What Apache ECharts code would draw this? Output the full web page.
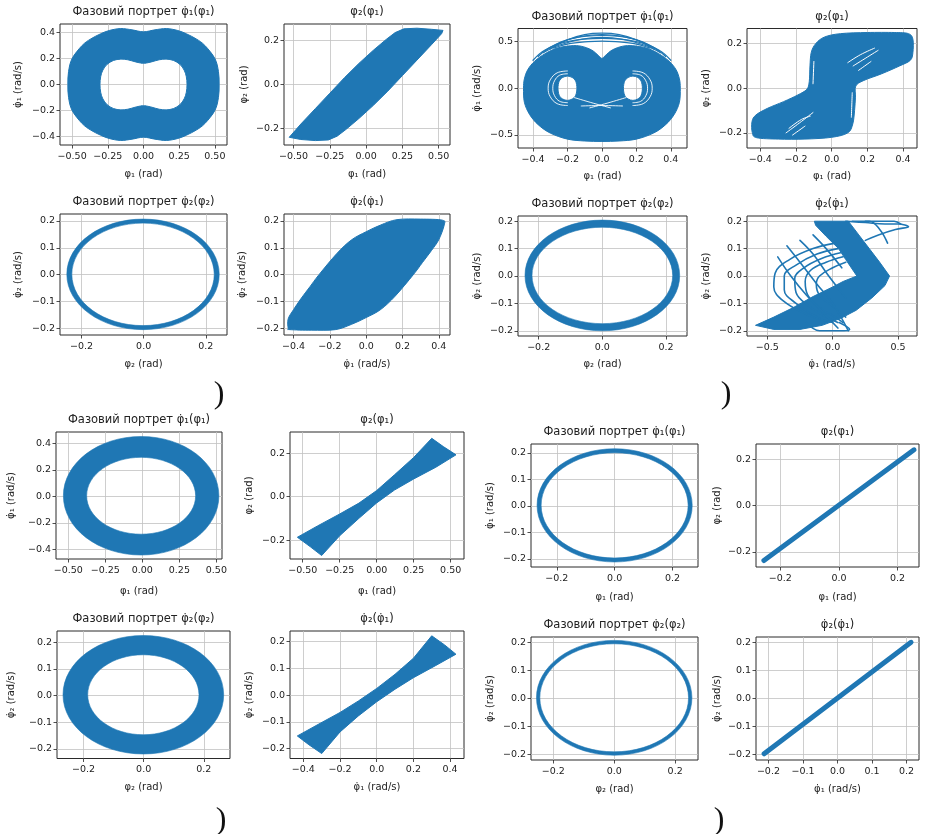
<!DOCTYPE html>
<html>
<head>
<meta charset="utf-8">
<title>Фазові портрети</title>
<script src="https://cdn.jsdelivr.net/npm/echarts@6/dist/echarts.min.js"></script>
<style>
  html, body { margin: 0; padding: 0; background: #ffffff; }
  #chart { width: 928px; height: 834px; }
</style>
</head>
<body>
<div id="chart"></div>
<script>
// ---------------------------------------------------------------
// Panel texts (four blocks of four phase portraits)
// ---------------------------------------------------------------
const titleA = 'Фазовий портрет φ̇₁(φ₁)';
const titleB = 'φ₂(φ₁)';
const titleC = 'Фазовий портрет φ̇₂(φ₂)';
const titleD = 'φ̇₂(φ̇₁)';
const panelTitles = [titleA, titleB, titleC, titleD, titleA, titleB, titleC, titleD,
                     titleA, titleB, titleC, titleD, titleA, titleB, titleC, titleD];
const xNamesBlock = ['φ₁ (rad)', 'φ₁ (rad)', 'φ₂ (rad)', 'φ̇₁ (rad/s)'];
const yNamesBlock = ['φ̇₁ (rad/s)', 'φ₂ (rad)', 'φ̇₂ (rad/s)', 'φ̇₂ (rad/s)'];
const captionMarks = [')', ')', ')', ')'];

// Axis ranges per panel: [min, max, tick step]
const xRanges = [
  [-0.585, 0.585, 0.25], [-0.566, 0.578, 0.25], [-0.269, 0.268, 0.2], [-0.453, 0.462, 0.2],
  [-0.487, 0.494, 0.2],  [-0.475, 0.478, 0.2],  [-0.265, 0.266, 0.2], [-0.655, 0.645, 0.5],
  [-0.583, 0.538, 0.25], [-0.586, 0.59, 0.25],  [-0.288, 0.287, 0.2], [-0.473, 0.476, 0.2],
  [-0.289, 0.288, 0.2],  [-0.283, 0.273, 0.2],  [-0.273, 0.275, 0.2], [-0.236, 0.236, 0.1]
];
const yRanges = [
  [-0.465, 0.465, 0.2],  [-0.275, 0.274, 0.2],  [-0.225, 0.226, 0.1], [-0.225, 0.226, 0.1],
  [-0.64, 0.64, 0.5],    [-0.268, 0.268, 0.2],  [-0.219, 0.219, 0.1], [-0.219, 0.219, 0.1],
  [-0.472, 0.486, 0.2],  [-0.287, 0.297, 0.2],  [-0.236, 0.242, 0.1], [-0.2375, 0.24, 0.1],
  [-0.231, 0.234, 0.1],  [-0.266, 0.267, 0.2],  [-0.219, 0.218, 0.1], [-0.219, 0.219, 0.1]
];

// ---------------------------------------------------------------
// Trajectory regions (phase-space coordinates)
// ---------------------------------------------------------------
// Block 1
const tl1Outer = [[0.53,0],[0.525,0.1],[0.5,0.2],[0.43,0.3],[0.37,0.35],[0.3,0.39],[0.24,0.415],[0.16,0.43],[0.08,0.42],[0,0.405],[-0.08,0.42],[-0.16,0.43],[-0.24,0.415],[-0.3,0.39],[-0.37,0.35],[-0.43,0.3],[-0.5,0.2],[-0.525,0.1],[-0.53,0],[-0.525,-0.1],[-0.5,-0.2],[-0.43,-0.3],[-0.37,-0.35],[-0.3,-0.39],[-0.24,-0.415],[-0.16,-0.43],[-0.08,-0.42],[0,-0.405],[0.08,-0.42],[0.16,-0.43],[0.24,-0.415],[0.3,-0.39],[0.37,-0.35],[0.43,-0.3],[0.5,-0.2],[0.525,-0.1]];
const tl1Inner = [[0.305,0],[0.3,0.06],[0.285,0.11],[0.255,0.155],[0.21,0.185],[0.16,0.195],[0.11,0.19],[0.06,0.175],[0.02,0.165],[0,0.163],[-0.02,0.165],[-0.06,0.175],[-0.11,0.19],[-0.16,0.195],[-0.21,0.185],[-0.255,0.155],[-0.285,0.11],[-0.3,0.06],[-0.305,0],[-0.3,-0.06],[-0.285,-0.11],[-0.255,-0.155],[-0.21,-0.185],[-0.16,-0.195],[-0.11,-0.19],[-0.06,-0.175],[-0.02,-0.165],[0,-0.163],[0.02,-0.165],[0.06,-0.175],[0.11,-0.19],[0.16,-0.195],[0.21,-0.185],[0.255,-0.155],[0.285,-0.11],[0.3,-0.06]];
const tl2Band = [[-0.53,-0.24],[-0.45,-0.18],[-0.35,-0.11],[-0.25,-0.04],[-0.15,0.03],[-0.05,0.095],[0.05,0.155],[0.14,0.205],[0.2,0.235],[0.26,0.252],[0.35,0.255],[0.45,0.25],[0.53,0.245],[0.52,0.23],[0.45,0.18],[0.35,0.11],[0.25,0.04],[0.15,-0.03],[0.05,-0.095],[-0.05,-0.155],[-0.14,-0.205],[-0.2,-0.235],[-0.26,-0.252],[-0.35,-0.255],[-0.45,-0.25]];
// [centre x, centre y, outer rx, outer ry, inner rx, inner ry]
const tl3Ring = [-0.002, 0.001, 0.245, 0.206, 0.229, 0.191];
const tl4Lens = [[-0.43,-0.2],[-0.43,-0.165],[-0.4,-0.13],[-0.36,-0.09],[-0.31,-0.045],[-0.26,0],[-0.16,0.08],[-0.08,0.13],[0,0.16],[0.08,0.185],[0.17,0.205],[0.3,0.207],[0.42,0.203],[0.43,0.185],[0.4,0.13],[0.36,0.09],[0.31,0.045],[0.26,0],[0.16,-0.08],[0.08,-0.13],[0,-0.16],[-0.08,-0.185],[-0.17,-0.205],[-0.3,-0.207],[-0.42,-0.205]];

// Block 2
const tr1Dense = [[-0.455,0],[-0.45,0.1],[-0.43,0.2],[-0.39,0.29],[-0.33,0.37],[-0.26,0.43],[-0.18,0.455],[-0.12,0.45],[-0.06,0.41],[-0.02,0.35],[0,0.32],[0.02,0.35],[0.06,0.41],[0.12,0.45],[0.18,0.455],[0.26,0.43],[0.33,0.37],[0.39,0.29],[0.43,0.2],[0.45,0.1],[0.455,0],[0.45,-0.15],[0.42,-0.28],[0.37,-0.39],[0.3,-0.48],[0.2,-0.545],[0.1,-0.565],[0,-0.57],[-0.1,-0.565],[-0.2,-0.545],[-0.3,-0.48],[-0.37,-0.39],[-0.42,-0.28],[-0.45,-0.15]];
const tr1HoleL = [[-0.145,0],[-0.152,0.075],[-0.172,0.115],[-0.2,0.13],[-0.228,0.115],[-0.248,0.075],[-0.255,0],[-0.248,-0.075],[-0.228,-0.115],[-0.2,-0.13],[-0.172,-0.115],[-0.152,-0.075]];
const tr1HoleR = [[0.235,0],[0.228,0.075],[0.208,0.115],[0.18,0.13],[0.152,0.115],[0.132,0.075],[0.125,0],[0.132,-0.075],[0.152,-0.115],[0.18,-0.13],[0.208,-0.115],[0.228,-0.075]];
const tr1Arcs = [
  [[-0.33,0.4],[-0.24,0.49],[-0.12,0.555],[0,0.575],[0.12,0.555],[0.24,0.49],[0.33,0.4]],
  [[-0.3,0.42],[-0.2,0.52],[-0.1,0.575],[0,0.59],[0.1,0.575],[0.2,0.52],[0.3,0.42]],
  [[-0.34,0.38],[-0.25,0.46],[-0.12,0.525],[0,0.545],[0.12,0.525],[0.25,0.46],[0.34,0.38]],
  [[-0.28,0.43],[-0.18,0.48],[-0.08,0.5],[0,0.505],[0.08,0.5],[0.18,0.48],[0.28,0.43]],
  [[-0.37,0.34],[-0.3,0.44],[-0.18,0.53],[0,0.565],[0.18,0.53],[0.3,0.44],[0.37,0.34]],
  [[-0.4,0.3],[-0.33,0.41],[-0.2,0.5],[0,0.535],[0.2,0.5],[0.33,0.41],[0.4,0.3]]
];
const tr1Gaps = [
  [[-0.2,0.155],[-0.245,0.14],[-0.275,0.08],[-0.285,0],[-0.275,-0.08],[-0.245,-0.14],[-0.2,-0.155]],
  [[-0.2,0.185],[-0.26,0.165],[-0.3,0.09],[-0.312,0],[-0.3,-0.09],[-0.26,-0.165],[-0.2,-0.185]],
  [[0.18,0.155],[0.225,0.14],[0.255,0.08],[0.265,0],[0.255,-0.08],[0.225,-0.14],[0.18,-0.155]],
  [[0.18,0.185],[0.24,0.165],[0.28,0.09],[0.292,0],[0.28,-0.09],[0.24,-0.165],[0.18,-0.185]],
  [[-0.16,-0.1],[-0.05,-0.16],[0.05,-0.21]],
  [[0.14,-0.1],[0.03,-0.16],[-0.07,-0.21]],
  [[-0.12,-0.19],[0,-0.185],[0.12,-0.19]]
];
const tr2Band = [[-0.445,-0.2],[-0.447,-0.15],[-0.425,-0.12],[-0.36,-0.09],[-0.27,-0.06],[-0.19,-0.03],[-0.14,-0.005],[-0.126,0.03],[-0.122,0.1],[-0.115,0.16],[-0.09,0.2],[-0.04,0.23],[0.05,0.245],[0.2,0.25],[0.35,0.25],[0.43,0.245],[0.455,0.22],[0.455,0.16],[0.44,0.125],[0.38,0.1],[0.28,0.065],[0.18,0.035],[0.135,0.01],[0.133,-0.04],[0.128,-0.1],[0.118,-0.16],[0.09,-0.2],[0,-0.22],[-0.15,-0.228],[-0.3,-0.228],[-0.42,-0.222]];
const tr2Gaps = [
  [[0.09,0.115],[0.16,0.15],[0.24,0.18]],
  [[0.12,0.1],[0.2,0.14],[0.26,0.17]],
  [[0.15,0.08],[0.22,0.12]],
  [[-0.256,-0.2],[-0.18,-0.155],[-0.105,-0.109]],
  [[-0.24,-0.18],[-0.17,-0.14],[-0.12,-0.125]],
  [[-0.22,-0.21],[-0.15,-0.17]],
  [[-0.105,0.02],[-0.1,0.12]],
  [[0.115,-0.02],[0.11,-0.13]]
];
const tr3Ring = [0, 0.002, 0.243, 0.202, 0.221, 0.176];
const tr4Dense = [[-0.14,0.2],[0.12,0.2],[0.2,0.15],[0.28,0.1],[0.36,0.05],[0.435,0],[0.4,-0.035],[0.3,-0.08],[0.18,-0.125],[0.06,-0.155],[-0.08,-0.18],[-0.25,-0.195],[-0.45,-0.195],[-0.59,-0.18],[-0.45,-0.15],[-0.3,-0.115],[-0.15,-0.075],[0,-0.04],[0.08,-0.02],[0.185,0],[0.1,0.06],[0.045,0.1],[-0.05,0.145],[-0.13,0.185]];
const tr4Loops = [
  [[0.02,0.12],[-0.15,0.1],[-0.33,0.06],[-0.44,0.01],[-0.45,-0.04],[-0.38,-0.09],[-0.2,-0.14],[-0.05,-0.165]],
  [[0.04,0.1],[-0.12,0.08],[-0.28,0.04],[-0.37,0],[-0.37,-0.05],[-0.28,-0.1],[-0.12,-0.15],[0,-0.17]],
  [[0.06,0.085],[-0.08,0.065],[-0.22,0.03],[-0.29,-0.01],[-0.28,-0.06],[-0.18,-0.11],[-0.05,-0.15],[0.04,-0.17]],
  [[0.08,0.07],[-0.05,0.05],[-0.17,0.02],[-0.21,-0.02],[-0.19,-0.07],[-0.1,-0.115],[0.02,-0.15],[0.08,-0.17]],
  [[0.1,0.05],[0,0.03],[-0.1,0],[-0.125,-0.03],[-0.1,-0.07],[0,-0.11],[0.1,-0.15]],
  [[-0.42,0.07],[-0.32,0],[-0.2,-0.07],[-0.08,-0.13],[0.04,-0.19]],
  [[-0.35,0.11],[-0.25,0.05],[-0.12,-0.03],[0,-0.1],[0.12,-0.2]],
  [[-0.25,0.13],[-0.15,0.08],[-0.03,0],[0.1,-0.08]],
  [[-0.15,0.15],[-0.05,0.1],[0.07,0.03]],
  [[0.1,0.2],[0.25,0.195],[0.4,0.19],[0.5,0.19],[0.58,0.18],[0.48,0.17],[0.35,0.15],[0.25,0.13]],
  [[0.15,0.2],[0.28,0.2],[0.36,0.17],[0.42,0.12]],
  [[0.25,0.2],[0.38,0.2],[0.47,0.2],[0.52,0.19]],
  [[-0.2,-0.17],[-0.1,-0.2],[0.05,-0.2],[0.13,-0.195],[0.05,-0.17]]
];

// Block 3
const bl1Ring = [-0.008, 0.005, 0.525, 0.447, 0.368, 0.29];
const bl2Bow = [[-0.536,-0.187],[-0.4,-0.135],[-0.25,-0.08],[-0.12,-0.03],[0,0.028],[0.12,0.1],[0.25,0.18],[0.372,0.268],[0.45,0.23],[0.536,0.192],[0.4,0.135],[0.25,0.081],[0.12,0.03],[0,-0.029],[-0.12,-0.1],[-0.25,-0.18],[-0.372,-0.271],[-0.45,-0.23]];
const bl3Ring = [-0.001, 0.003, 0.267, 0.222, 0.185, 0.15];
const bl4Bow = [[-0.433,-0.153],[-0.32,-0.11],[-0.2,-0.065],[-0.1,-0.022],[0,0.025],[0.1,0.078],[0.2,0.138],[0.3,0.222],[0.37,0.188],[0.432,0.153],[0.32,0.11],[0.2,0.065],[0.1,0.022],[0,-0.025],[-0.1,-0.078],[-0.2,-0.138],[-0.3,-0.219],[-0.37,-0.186]];

// Block 4
const br1Ring = [0, 0.002, 0.268, 0.214, 0.254, 0.199];
const br2Line = [[-0.256,-0.238],[0.256,0.242]];
const br3Ring = [0, 0.002, 0.255, 0.204, 0.244, 0.192];
const br4Line = [[-0.2125,-0.197],[0.213,0.2]];

// ---------------------------------------------------------------
// Layout and styles
// ---------------------------------------------------------------
const FONT = 'DejaVu Sans';
const INK = '#222222';
const BLUE = '#1f77b4';
const GRID_COLOR = '#c2c2c2';

// plot frames: [left, top, right, bottom] in px
const panelBoxes = [
  [60, 24, 227, 145],  [284, 24, 450, 145],  [60, 214, 227, 335],  [284, 214, 450, 335],
  [518, 28.5, 687, 148], [747, 28.5, 917, 148], [518, 216, 687, 336], [747, 216, 917, 336],
  [56, 432, 222, 559], [290, 432, 464, 559], [57, 631, 230, 758.5], [290, 631, 464, 758.5],
  [531, 444, 698, 567], [756, 444, 919, 567], [531, 637, 698, 760], [756, 637, 919, 760]
];
const xNameGaps = [24, 24, 24, 24, 23, 23, 23.5, 23.5, 27, 27, 24, 24, 25, 25, 24, 24];
const yNameGaps = [37, 35, 37, 37, 36, 36, 36, 36, 40, 36, 41, 36, 36, 34, 36, 34];
const captionPos = [[219, 395], [726, 395], [221, 821], [719, 821]];

function tickText(v, step, dec) {
  const k = v / step;
  if (Math.abs(k - Math.round(k)) > 1e-6) return '';
  if (Math.abs(v) < 1e-9) return (0).toFixed(dec);
  return (v < 0 ? '\u2212' : '') + Math.abs(v).toFixed(dec);
}
// tick positions: whole multiples of the step inside [min, max]
function tickValues(min, max, step) {
  const out = [];
  for (let k = Math.ceil(min / step - 1e-9); k <= Math.floor(max / step + 1e-9); k++) {
    out.push(Math.round(k * step * 1e6) / 1e6);
  }
  return out;
}

function axisCfg(i, range, name, gap, isX) {
  const [min, max, step] = range;
  const dec = (String(step).split('.')[1] || '').length;
  const ticks = tickValues(min, max, step);
  return {
    type: 'value', gridIndex: i, min: min, max: max,
    minInterval: step, maxInterval: step, splitNumber: 5,
    position: isX ? 'bottom' : 'left',
    name: name, nameLocation: 'middle', nameGap: gap, nameRotate: isX ? 0 : 90,
    nameTextStyle: { fontFamily: FONT, fontSize: 10, color: INK },
    axisLine: { show: false, onZero: false },
    axisTick: {
      show: true, inside: false, length: 3.5, customValues: ticks,
      lineStyle: { color: INK, width: 0.8 }
    },
    axisLabel: {
      fontFamily: FONT, fontSize: 9.5, color: INK, margin: isX ? 6.5 : 5,
      hideOverlap: false, customValues: ticks,
      formatter: function (v) { return tickText(v, step, dec); }
    },
    splitLine: { show: true, lineStyle: { color: GRID_COLOR, width: 0.8 } }
  };
}

// ---------- path helpers (pixel space) ----------
function f(n) { return Math.round(n * 100) / 100; }
function area(px) {
  let s = 0;
  for (let i = 0; i < px.length; i++) {
    const a = px[i], b = px[(i + 1) % px.length];
    s += a[0] * b[1] - b[0] * a[1];
  }
  return s / 2;
}
function orient(px, positive) {
  const a = area(px);
  return (positive ? a > 0 : a < 0) ? px : px.slice().reverse();
}
function closedPath(px, smooth) {
  const n = px.length;
  let d = 'M' + f(px[0][0]) + ' ' + f(px[0][1]);
  for (let i = 0; i < n; i++) {
    const p0 = px[(i - 1 + n) % n], p1 = px[i], p2 = px[(i + 1) % n], p3 = px[(i + 2) % n];
    if (smooth) {
      const c1x = p1[0] + (p2[0] - p0[0]) / 6, c1y = p1[1] + (p2[1] - p0[1]) / 6;
      const c2x = p2[0] - (p3[0] - p1[0]) / 6, c2y = p2[1] - (p3[1] - p1[1]) / 6;
      d += 'C' + f(c1x) + ' ' + f(c1y) + ' ' + f(c2x) + ' ' + f(c2y) + ' ' + f(p2[0]) + ' ' + f(p2[1]);
    } else {
      d += 'L' + f(p2[0]) + ' ' + f(p2[1]);
    }
  }
  return d + 'Z';
}
function ellipsePath(cx, cy, rx, ry, reverse) {
  const k = 0.5523, s = reverse ? -1 : 1;
  const P = (x, y) => f(x) + ' ' + f(y);
  return 'M' + P(cx + rx, cy) +
    'C' + P(cx + rx, cy + s * k * ry) + ' ' + P(cx + k * rx, cy + s * ry) + ' ' + P(cx, cy + s * ry) +
    'C' + P(cx - k * rx, cy + s * ry) + ' ' + P(cx - rx, cy + s * k * ry) + ' ' + P(cx - rx, cy) +
    'C' + P(cx - rx, cy - s * k * ry) + ' ' + P(cx - k * rx, cy - s * ry) + ' ' + P(cx, cy - s * ry) +
    'C' + P(cx + k * rx, cy - s * ry) + ' ' + P(cx + rx, cy - s * k * ry) + ' ' + P(cx + rx, cy) + 'Z';
}

// ---------- series builders ----------
function bandSeries(i, outers, holes, smooth) {
  return {
    type: 'custom', xAxisIndex: i, yAxisIndex: i, silent: true, data: [0], z: 2,
    renderItem: function (params, api) {
      let d = '';
      outers.forEach(pts => { d += closedPath(orient(pts.map(p => api.coord(p)), true), smooth); });
      holes.forEach(pts => { d += closedPath(orient(pts.map(p => api.coord(p)), false), smooth); });
      return { type: 'path', shape: { pathData: d }, style: { fill: BLUE, stroke: BLUE, lineWidth: 1 } };
    }
  };
}
function ringSeries(i, r) {
  return {
    type: 'custom', xAxisIndex: i, yAxisIndex: i, silent: true, data: [0], z: 2,
    renderItem: function (params, api) {
      const c = api.coord([r[0], r[1]]);
      const ox = api.coord([r[0] + r[2], r[1]])[0] - c[0];
      const oy = c[1] - api.coord([r[0], r[1] + r[3]])[1];
      const ix = api.coord([r[0] + r[4], r[1]])[0] - c[0];
      const iy = c[1] - api.coord([r[0], r[1] + r[5]])[1];
      const d = ellipsePath(c[0], c[1], ox, oy, false) + ellipsePath(c[0], c[1], ix, iy, true);
      return { type: 'path', shape: { pathData: d }, style: { fill: BLUE, stroke: BLUE, lineWidth: 0.6 } };
    }
  };
}
function traceSeries(i, pts, width, color, smooth) {
  return {
    type: 'line', xAxisIndex: i, yAxisIndex: i, data: pts, symbol: 'none', showSymbol: false,
    smooth: smooth ? 0.4 : false, silent: true, z: 3,
    lineStyle: { color: color, width: width, cap: 'round', join: 'round' }
  };
}

// ---------------------------------------------------------------
// Option
// ---------------------------------------------------------------
const grid = [], xAxis = [], yAxis = [], graphic = [];
panelBoxes.forEach((b, i) => {
  grid.push({
    left: b[0], top: b[1], width: b[2] - b[0], height: b[3] - b[1],
    show: true, borderColor: '#2a2a2a', borderWidth: 1, backgroundColor: 'transparent',
    containLabel: false, outerBoundsMode: 'none'
  });
  xAxis.push(axisCfg(i, xRanges[i], xNamesBlock[i % 4], xNameGaps[i], true));
  yAxis.push(axisCfg(i, yRanges[i], yNamesBlock[i % 4], yNameGaps[i], false));
  graphic.push({
    type: 'text', x: (b[0] + b[2]) / 2, y: b[1] - 11.5, silent: true,
    style: {
      text: panelTitles[i], font: '11.5px "' + FONT + '"', fill: INK,
      align: 'center', verticalAlign: 'middle', textAlign: 'center', textVerticalAlign: 'middle'
    }
  });
});
captionMarks.forEach((t, k) => {
  graphic.push({
    type: 'text', x: captionPos[k][0], y: captionPos[k][1], silent: true,
    style: {
      text: t, font: '32px "Liberation Serif"', fill: '#111',
      align: 'center', verticalAlign: 'middle', textAlign: 'center', textVerticalAlign: 'middle'
    }
  });
});

const series = [
  // block 1
  bandSeries(0, [tl1Outer], [tl1Inner], true),
  bandSeries(1, [tl2Band], [], false),
  ringSeries(2, tl3Ring),
  bandSeries(3, [tl4Lens], [], true),
  // block 2
  bandSeries(4, [tr1Dense], [tr1HoleL, tr1HoleR], true),
  ...tr1Arcs.map(a => traceSeries(4, a, 1.2, BLUE, true)),
  ...tr1Gaps.map(g => traceSeries(4, g, 0.9, '#ffffff', true)),
  bandSeries(5, [tr2Band], [], true),
  ...tr2Gaps.map(g => traceSeries(5, g, 1, '#ffffff', true)),
  ringSeries(6, tr3Ring),
  bandSeries(7, [tr4Dense], [], false),
  ...tr4Loops.map(l => traceSeries(7, l, 1.6, BLUE, true)),
  // block 3
  ringSeries(8, bl1Ring),
  bandSeries(9, [bl2Bow], [], false),
  ringSeries(10, bl3Ring),
  bandSeries(11, [bl4Bow], [], false),
  // block 4
  ringSeries(12, br1Ring),
  traceSeries(13, br2Line, 5, BLUE, false),
  ringSeries(14, br3Ring),
  traceSeries(15, br4Line, 5, BLUE, false)
];

const chart = echarts.init(document.getElementById('chart'), null, { renderer: 'canvas', width: 928, height: 834 });
chart.setOption({
  animation: false,
  backgroundColor: '#ffffff',
  textStyle: { fontFamily: FONT },
  grid: grid,
  xAxis: xAxis,
  yAxis: yAxis,
  graphic: graphic,
  series: series
});
</script>
</body>
</html>
